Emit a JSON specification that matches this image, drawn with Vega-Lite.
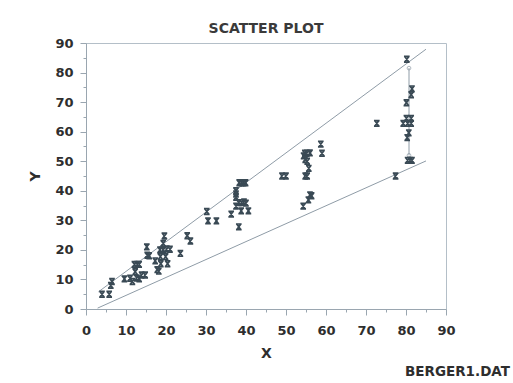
{
  "$schema": "https://vega.github.io/schema/vega-lite/v6.json",
  "autosize": {"type": "none"},
  "padding": {"left": 86, "top": 43, "right": 67, "bottom": 74},
  "width": 360,
  "height": 266,
  "background": "white",
  "title": {"text": "SCATTER PLOT", "font": "DejaVu Sans", "fontSize": 14, "fontWeight": "bold", "color": "#3a3a3a", "anchor": "middle", "offset": 1},
  "config": {
    "view": {"stroke": "#b4bfc8", "strokeWidth": 1},
    "axis": {"grid": false, "domainColor": "#9aa6b0", "tickColor": "#9aa6b0", "labelFont": "DejaVu Sans", "labelFontSize": 13, "labelFontWeight": "bold", "labelColor": "#2e2e2e", "titleFont": "DejaVu Sans", "titleFontSize": 14, "titleFontWeight": "bold", "titleColor": "#2e2e2e", "labelOverlap": false, "labelFlush": false}
  },
  "datasets": {
    "pts": [
      {"x": 4, "y": 5}, {"x": 5.8, "y": 5}, {"x": 6.5, "y": 9.3}, {"x": 6.2, "y": 8}, {"x": 9.6, "y": 10.2},
      {"x": 11, "y": 10.4}, {"x": 11.6, "y": 9.3}, {"x": 12.7, "y": 10.5}, {"x": 13.3, "y": 10.2}, {"x": 13.9, "y": 11.5},
      {"x": 14.8, "y": 11.5}, {"x": 12.3, "y": 12.6}, {"x": 12.1, "y": 15.1}, {"x": 12.8, "y": 15.1}, {"x": 13.3, "y": 15.1},
      {"x": 15.2, "y": 21}, {"x": 15.3, "y": 18.2}, {"x": 15.8, "y": 18}, {"x": 17.3, "y": 16.3}, {"x": 17.8, "y": 13.3},
      {"x": 18.2, "y": 12.8}, {"x": 18.7, "y": 15.3}, {"x": 18.5, "y": 20}, {"x": 19.3, "y": 20}, {"x": 20.2, "y": 20.3},
      {"x": 19.3, "y": 22.2}, {"x": 19.6, "y": 24.7}, {"x": 18.6, "y": 17.7}, {"x": 19.9, "y": 17.7}, {"x": 20.4, "y": 15.3},
      {"x": 21, "y": 20.2}, {"x": 23.6, "y": 18.8}, {"x": 25.3, "y": 24.8}, {"x": 26.1, "y": 23},
      {"x": 30.2, "y": 33}, {"x": 30.5, "y": 29.8}, {"x": 32.6, "y": 29.8}, {"x": 36.3, "y": 32.1}, {"x": 37.5, "y": 40},
      {"x": 37.5, "y": 38.9}, {"x": 37.5, "y": 37.8}, {"x": 37.5, "y": 34.8}, {"x": 38.2, "y": 27.8}, {"x": 38.3, "y": 42.7},
      {"x": 38.9, "y": 42.7}, {"x": 39.4, "y": 42.7}, {"x": 39.9, "y": 42.7}, {"x": 38.2, "y": 36}, {"x": 38.9, "y": 36},
      {"x": 39.5, "y": 36.2}, {"x": 40, "y": 35.8}, {"x": 38.8, "y": 33.2}, {"x": 40.6, "y": 33.2},
      {"x": 49, "y": 45}, {"x": 50, "y": 45},
      {"x": 54.3, "y": 34.8}, {"x": 55.6, "y": 36.9}, {"x": 56, "y": 38.6}, {"x": 56.4, "y": 38.3},
      {"x": 54.7, "y": 52.7}, {"x": 55.2, "y": 52.7}, {"x": 54.4, "y": 51.8}, {"x": 54.8, "y": 50.6}, {"x": 55.3, "y": 50},
      {"x": 55.7, "y": 47.6}, {"x": 54.8, "y": 45}, {"x": 55.3, "y": 45}, {"x": 56, "y": 52.8},
      {"x": 58.7, "y": 55.8}, {"x": 59, "y": 52.7}, {"x": 72.7, "y": 62.8}, {"x": 77.4, "y": 45},
      {"x": 80.2, "y": 84.5}, {"x": 81.5, "y": 74.5}, {"x": 81.3, "y": 72.5}, {"x": 80.1, "y": 69.8}, {"x": 80.1, "y": 64.5},
      {"x": 81.3, "y": 64.5}, {"x": 79.3, "y": 62.8}, {"x": 80.4, "y": 62.8}, {"x": 81.3, "y": 62.8}, {"x": 80.7, "y": 59.6},
      {"x": 80.3, "y": 58}, {"x": 80.4, "y": 50.3}, {"x": 81, "y": 50.3}, {"x": 81.5, "y": 50.3}
    ],
    "lines": [
      {"series": "upper", "x": 3.1, "y": 5.8}, {"series": "upper", "x": 85, "y": 87.9},
      {"series": "lower", "x": 2.9, "y": 0.3}, {"series": "lower", "x": 85, "y": 50.1},
      {"series": "range", "x": 80.75, "y": 52}, {"series": "range", "x": 80.75, "y": 81.5}
    ],
    "ends": [
      {"x": 80.75, "y": 52}, {"x": 80.75, "y": 81.5}
    ],
    "note": [
      {"x": 79.75, "y": -22.5, "label": "BERGER1.DAT"}
    ]
  },
  "encoding": {
    "x": {"field": "x", "type": "quantitative", "scale": {"domain": [0, 90], "nice": false, "zero": false},
      "axis": {"title": "X", "values": [0,5,10,15,20,25,30,35,40,45,50,55,60,65,70,75,80,85,90],
        "labelExpr": "datum.value % 10 === 0 ? datum.label : ''",
        "tickSize": {"condition": {"test": "datum.value % 10 === 0", "value": 6}, "value": 3},
        "labelPadding": 9, "titlePadding": 9}},
    "y": {"field": "y", "type": "quantitative", "scale": {"domain": [0, 90], "nice": false, "zero": false},
      "axis": {"title": "Y", "values": [0,5,10,15,20,25,30,35,40,45,50,55,60,65,70,75,80,85,90],
        "labelExpr": "datum.value % 10 === 0 ? datum.label : ''",
        "tickSize": {"condition": {"test": "datum.value % 10 === 0", "value": 6}, "value": 3},
        "labelPadding": 7, "titlePadding": 12}}
  },
  "layer": [
    {"data": {"name": "lines"}, "mark": {"type": "line", "color": "#8f9ca7", "strokeWidth": 1}, "encoding": {"detail": {"field": "series"}}},
    {"data": {"name": "ends"}, "mark": {"type": "point", "shape": "circle", "size": 14, "filled": false, "color": "#8f9ca7", "strokeWidth": 1}},
    {"data": {"name": "pts"}, "mark": {"type": "point", "shape": "M-1,-1H1M-1,1H1M-0.75,-1L0.75,1M0.75,-1L-0.75,1", "size": 32, "filled": false, "color": "#3a4a55", "strokeWidth": 1.7, "opacity": 1}},
    {"data": {"name": "note"}, "mark": {"type": "text", "align": "left", "baseline": "alphabetic", "font": "DejaVu Sans", "fontSize": 13.5, "fontWeight": "bold", "color": "#2e2e2e", "clip": false}, "encoding": {"text": {"field": "label"}}}
  ]
}
